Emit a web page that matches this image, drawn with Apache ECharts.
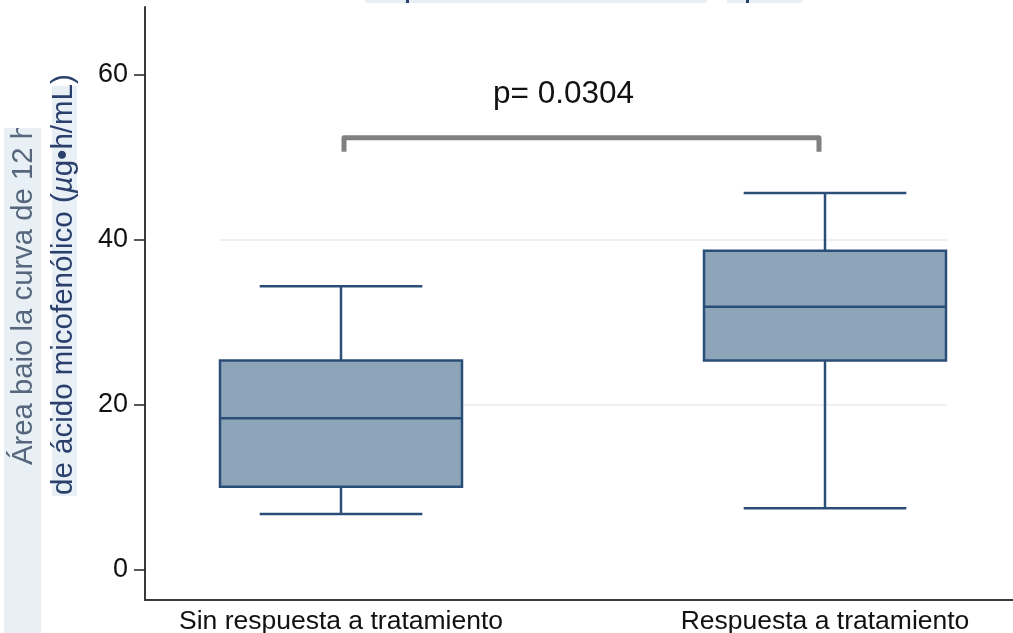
<!DOCTYPE html>
<html>
<head>
<meta charset="utf-8">
<script src="https://cdn.jsdelivr.net/npm/echarts@6/dist/echarts.min.js"></script>
<style>
  html, body { margin: 0; padding: 0; background: #ffffff; }
  #chart { width: 1013px; height: 633px; }
</style>
</head>
<body>
<div id="chart"></div>
<script>
// Groups and box-plot summaries (µg·h/mL)
const categories = ['Sin respuesta a tratamiento', 'Respuesta a tratamiento'];
const lowerWhisker = [6.8, 7.5];
const q1 = [10.1, 25.4];
const median = [18.4, 31.9];
const q3 = [25.4, 38.7];
const upperWhisker = [34.4, 45.7];

// Significance bracket between the two groups
const bracketLegY = 50.7;
const bracketTopY = 52.4;
const pLabelY = 57.6;
const pLabel = 'p= 0.0304';

// Axis ticks
const yTicksMin = 0;
const yTicksMax = 60;
const yTickStep = 20;

const FONT = '"Liberation Sans", Arial, Helvetica, sans-serif';
const BOX_FILL = '#8da4b9';
const BOX_EDGE = '#2a4e78';

const boxRows = categories.map((c, i) =>
  [i, lowerWhisker[i], q1[i], median[i], q3[i], upperWhisker[i]]);

function renderBox(params, api) {
  const x = api.value(0);
  const lo = api.coord([x, api.value(1)]);
  const b1 = api.coord([x, api.value(2)]);
  const md = api.coord([x, api.value(3)]);
  const b3 = api.coord([x, api.value(4)]);
  const hi = api.coord([x, api.value(5)]);
  const band = api.size([1, 0])[0];
  const bw = band * 0.5;
  const cw = band * 0.336;
  const cx = lo[0];
  const ls = { stroke: BOX_EDGE, lineWidth: 2.5 };
  return {
    type: 'group',
    children: [
      { type: 'line', shape: { x1: cx, y1: b3[1], x2: cx, y2: hi[1] }, style: ls },
      { type: 'line', shape: { x1: cx, y1: b1[1], x2: cx, y2: lo[1] }, style: ls },
      { type: 'line', shape: { x1: cx - cw / 2, y1: hi[1], x2: cx + cw / 2, y2: hi[1] }, style: ls },
      { type: 'line', shape: { x1: cx - cw / 2, y1: lo[1], x2: cx + cw / 2, y2: lo[1] }, style: ls },
      { type: 'rect', shape: { x: cx - bw / 2, y: b3[1], width: bw, height: b1[1] - b3[1] },
        style: { fill: BOX_FILL, stroke: BOX_EDGE, lineWidth: 2.5 } },
      { type: 'line', shape: { x1: cx - bw / 2, y1: md[1], x2: cx + bw / 2, y2: md[1] }, style: ls }
    ]
  };
}

function renderBracket(params, api) {
  const a = api.coord([0, bracketTopY]);
  const b = api.coord([1, bracketTopY]);
  const legA = api.coord([0, bracketLegY]);
  const t = api.coord([0, pLabelY]);
  const xl = a[0] + 3;
  const xr = b[0] - 6;
  return {
    type: 'group',
    children: [
      { type: 'polyline',
        shape: { points: [[xl, legA[1]], [xl, a[1]], [xr, a[1]], [xr, legA[1]]] },
        style: { stroke: '#808080', lineWidth: 5, fill: null, lineJoin: 'round' } },
      { type: 'text',
        style: { x: (xl + xr) / 2 - 18, y: t[1], text: pLabel, fill: '#111111',
          font: '31.5px ' + FONT, textAlign: 'center', textVerticalAlign: 'middle' } }
    ]
  };
}

const chart = echarts.init(document.getElementById('chart'), null, { renderer: 'canvas' });

const gridBase = { containLabel: false, outerBoundsMode: 'none' };

chart.setOption({
  backgroundColor: '#ffffff',
  animation: false,
  grid: [
    // data area, category bands centred on the two groups
    Object.assign({ left: 99, width: 968, top: 75, height: 495 }, gridBase),
    // tick labels of the y scale
    Object.assign({ left: 145, right: 0, top: 75, bottom: 63 }, gridBase),
    // outer axis lines
    Object.assign({ left: 145, right: 0, top: 7, bottom: 33 }, gridBase),
    // interior reference lines
    Object.assign({ left: 219, right: 66, top: 240, bottom: 228 }, gridBase)
  ],
  xAxis: [
    { gridIndex: 0, type: 'category', data: categories,
      axisLine: { show: false }, axisTick: { show: false }, splitLine: { show: false },
      axisLabel: { show: true, margin: 38, fontSize: 26.5, color: '#111111', fontFamily: FONT, interval: 0 } },
    { gridIndex: 1, type: 'value', show: false },
    { gridIndex: 2, type: 'value', min: 0, max: 1,
      axisLine: { show: true, lineStyle: { color: '#3a3a3a', width: 2 } },
      axisTick: { show: false }, axisLabel: { show: false }, splitLine: { show: false } },
    { gridIndex: 3, type: 'value', show: false }
  ],
  yAxis: [
    { gridIndex: 0, type: 'value', min: yTicksMin, max: yTicksMax, interval: yTickStep, show: false },
    { gridIndex: 1, type: 'value', min: yTicksMin, max: yTicksMax, interval: yTickStep,
      axisLine: { show: false },
      axisTick: { show: true, length: 11, lineStyle: { color: '#222222', width: 1.5 } },
      axisLabel: { show: true, margin: 17, fontSize: 27, color: '#111111', fontFamily: FONT },
      splitLine: { show: false } },
    { gridIndex: 2, type: 'value', min: 0, max: 1,
      axisLine: { show: true, lineStyle: { color: '#3a3a3a', width: 2 } },
      axisTick: { show: false }, axisLabel: { show: false }, splitLine: { show: false } },
    { gridIndex: 3, type: 'value', min: 20, max: 40, interval: 20,
      axisLine: { show: false }, axisTick: { show: false }, axisLabel: { show: false },
      splitLine: { show: true, lineStyle: { color: '#ebebeb', width: 1.5 } } }
  ],
  series: [
    { type: 'custom', name: 'boxes', xAxisIndex: 0, yAxisIndex: 0,
      renderItem: renderBox, data: boxRows, clip: false, z: 5,
      encode: { x: 0, y: [1, 2, 3, 4, 5] } },
    { type: 'custom', name: 'bracket', xAxisIndex: 0, yAxisIndex: 0,
      renderItem: renderBracket, data: [[0]], clip: false, z: 5 }
  ],
  graphic: [
    // highlighted heading strip along the top edge
    { type: 'rect', left: 365, top: 0, shape: { width: 342, height: 3 }, style: { fill: '#e8f0f5' }, z: 1 },
    { type: 'rect', left: 727, top: 0, shape: { width: 75, height: 3 }, style: { fill: '#e8f0f5' }, z: 1 },
    { type: 'rect', left: 406, top: 0, shape: { width: 3, height: 3 }, style: { fill: '#2a3f6b' }, z: 2 },
    { type: 'rect', left: 746, top: 0, shape: { width: 3, height: 3 }, style: { fill: '#2a3f6b' }, z: 2 },
    // y axis title, two lines on tinted backgrounds
    { type: 'rect', left: 4, top: 128, shape: { width: 37, height: 505 }, style: { fill: '#e8f0f5' }, z: 1 },
    { type: 'rect', left: 52, top: 86, shape: { width: 25, height: 410 }, style: { fill: '#e8f0f5' }, z: 1 },
    { type: 'text', x: 24, y: 465, rotation: Math.PI / 2, z: 2,
      style: { text: 'Área baio la curva de 12 h', fill: '#56677d',
        font: '29.3px ' + FONT, textAlign: 'left', textVerticalAlign: 'middle' } },
    { type: 'rect', left: 0, top: 0, shape: { width: 48, height: 128 }, style: { fill: '#ffffff' }, z: 3 },
    { type: 'text', x: 64, y: 495, rotation: Math.PI / 2, z: 2,
      style: { text: '{a|de ácido micofenólico (}{i|µ}{a|g•h/mL)}', textAlign: 'left', textVerticalAlign: 'middle',
        rich: {
          a: { fontSize: 29.5, fontFamily: FONT, fill: '#2a3f6b' },
          i: { fontSize: 29.5, fontFamily: FONT, fontStyle: 'italic', fill: '#2a3f6b' }
        } } }
  ]
});
</script>
</body>
</html>
